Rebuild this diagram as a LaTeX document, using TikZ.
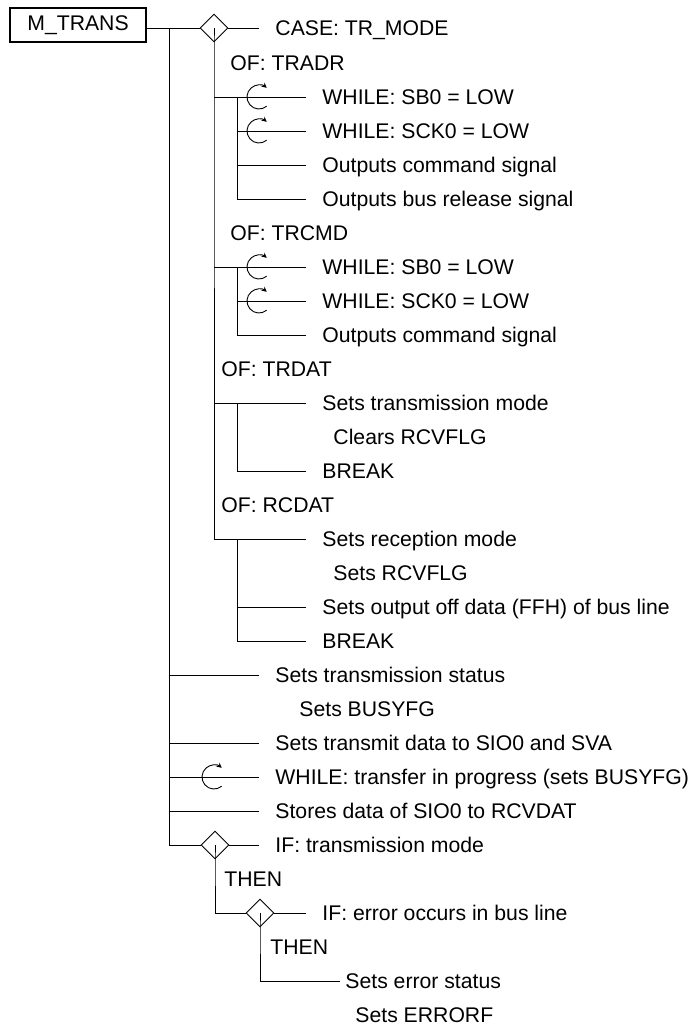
\documentclass[tikz,border=0pt]{standalone}
\usepackage{fontspec}
\setmainfont{Liberation Sans}
\usetikzlibrary{shapes.geometric,arrows.meta}
\begin{document}
\begin{tikzpicture}[x=1pt,y=-1pt,line width=0.9pt,
  txt/.style={anchor=west,inner xsep=16pt,inner ysep=0pt,text height=15pt,text depth=0pt,font=\fontsize{21.2}{22}\selectfont},
  box/.style={draw,line width=1.8pt,minimum width=136pt,minimum height=34pt,inner sep=0pt,font=\fontsize{21.2}{22}\selectfont},
  dia/.style={diamond,draw,line width=0.9pt,minimum width=28pt,minimum height=28pt,inner sep=0pt},
  loopsym/.style={-{Stealth[length=5pt,width=5pt]},line width=0.9pt}]
\useasboundingbox (0,0) rectangle (692,1030);

% nodes
\node[box] (mt) at (78,25) {M\_TRANS};
\node[dia] (d0) at (214,28) {};
\node[txt] (t0) at (259,28) {CASE: TR\_MODE};
\node[txt] (of1) at (214,63) {OF: TRADR};
\node[txt] (t2) at (306,97) {WHILE: SB0 = LOW};
\node[txt] (t3) at (306,131) {WHILE: SCK0 = LOW};
\node[txt] (t4) at (306,165) {Outputs command signal};
\node[txt] (t5) at (306,199) {Outputs bus release signal};
\node[txt] (of2) at (214,233) {OF: TRCMD};
\node[txt] (t7) at (306,267) {WHILE: SB0 = LOW};
\node[txt] (t8) at (306,301) {WHILE: SCK0 = LOW};
\node[txt] (t9) at (306,335) {Outputs command signal};
\node[txt] (of3) at (205,369) {OF: TRDAT};
\node[txt] (t11) at (306,403) {Sets transmission mode};
\node[txt] (t12) at (317,437) {Clears RCVFLG};
\node[txt] (t13) at (306,471) {BREAK};
\node[txt] (of4) at (205,505) {OF: RCDAT};
\node[txt] (t15) at (306,539) {Sets reception mode};
\node[txt] (t16) at (317,573) {Sets RCVFLG};
\node[txt] (t17) at (306,607) {Sets output off data (FFH) of bus line};
\node[txt] (t18) at (306,641) {BREAK};
\node[txt] (t19) at (259,675) {Sets transmission status};
\node[txt] (t20) at (283,709) {Sets BUSYFG};
\node[txt] (t21) at (259,743) {Sets transmit data to SIO0 and SVA};
\node[txt] (t22) at (259,777) {WHILE: transfer in progress (sets BUSYFG)};
\node[txt] (t23) at (259,811) {Stores data of SIO0 to RCVDAT};
\node[dia] (d1) at (215,845) {};
\node[txt] (t24) at (259,845) {IF: transmission mode};
\node[txt] (th1) at (208,879) {THEN};
\node[dia] (d2) at (260,913) {};
\node[txt] (t26) at (306,913) {IF: error occurs in bus line};
\node[txt] (th2) at (254,947) {THEN};
\node[txt,inner xsep=5pt] (t28) at (340,981) {Sets error status};
\node[txt] (t29) at (339,1015) {Sets ERRORF};

% junction coordinates
\coordinate (sp0) at (169,28);
\coordinate (c15) at (214,539);
\coordinate (a2) at (214,97);
\coordinate (a7) at (214,267);
\coordinate (a11) at (214,403);
\coordinate (b2) at (237,97);
\coordinate (b3) at (237,131);
\coordinate (b4) at (237,165);
\coordinate (b5) at (237,199);
\coordinate (b7) at (237,267);
\coordinate (b8) at (237,301);
\coordinate (b9) at (237,335);
\coordinate (b11) at (237,403);
\coordinate (b13) at (237,471);
\coordinate (b15) at (237,539);
\coordinate (b17) at (237,607);
\coordinate (b18) at (237,641);
\coordinate (s19) at (169,675);
\coordinate (s21) at (169,743);
\coordinate (s22) at (169,777);
\coordinate (s23) at (169,811);
\coordinate (e26) at (215,913);
\coordinate (e28) at (260,981);
\coordinate (l2) at (259,97);
\coordinate (l3) at (259,131);
\coordinate (l7) at (259,267);
\coordinate (l8) at (259,301);
\coordinate (l22) at (214,777);

% connectors
\draw (mt.east |- d0.west) -- (d0.west);
\draw (d0.east) -- (t0.west);
\draw (sp0) -- (d1.west -| sp0) -- (d1.west);
\draw (d1.east) -- (t24.west);
\draw (d0.center) -- (d0.south) -- (c15) -- (t15.west);
% TRADR
\draw (a2) -- (t2.west);
\draw (b2) -- (b5) -- (t5.west);
\draw (b3) -- (t3.west);
\draw (b4) -- (t4.west);
% TRCMD
\draw (a7) -- (t7.west);
\draw (b7) -- (b9) -- (t9.west);
\draw (b8) -- (t8.west);
% TRDAT
\draw (a11) -- (t11.west);
\draw (b11) -- (b13) -- (t13.west);
% RCDAT
\draw (b15) -- (b18) -- (t18.west);
\draw (b17) -- (t17.west);
% main level
\draw (s19) -- (t19.west);
\draw (s21) -- (t21.west);
\draw (s22) -- (t22.west);
\draw (s23) -- (t23.west);
% IF nest
\draw (d1.center) -- (d1.south) -- (e26) -- (d2.west);
\draw (d2.east) -- (t26.west);
\draw (d2.center) -- (d2.south) -- (e28) -- (t28.west);

% loop symbols
\foreach \c in {l2,l3,l7,l8,l22}
  \draw[loopsym] ([shift={(50:12)}]\c) arc[start angle=50,end angle=310,radius=12];
\end{tikzpicture}
\end{document}
